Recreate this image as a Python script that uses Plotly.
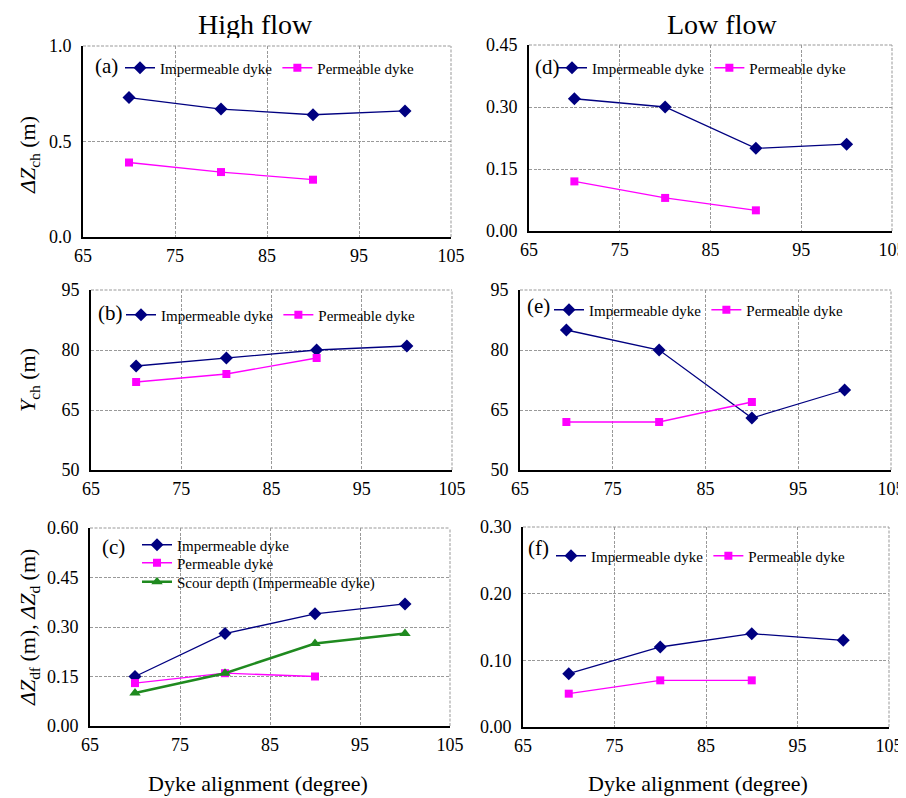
import plotly.graph_objects as go

# ---------------- data ----------------
angles = [70, 80, 90, 100]
angles_perm = [70, 80, 90]

# (a) High flow, Delta Z_ch (m)
a_imperm = [0.73, 0.67, 0.64, 0.66]
a_perm = [0.39, 0.34, 0.30]
# (b) High flow, Y_ch (m)
b_imperm = [76, 78, 80, 81]
b_perm = [72, 74, 78]
# (c) High flow, Delta Z_df, Delta Z_d (m)
c_imperm = [0.15, 0.28, 0.34, 0.37]
c_perm = [0.13, 0.16, 0.15]
c_scour = [0.10, 0.16, 0.25, 0.28]
# (d) Low flow, Delta Z_ch (m)
d_imperm = [0.32, 0.30, 0.20, 0.21]
d_perm = [0.12, 0.08, 0.05]
# (e) Low flow, Y_ch (m)
e_imperm = [85, 80, 63, 70]
e_perm = [62, 62, 67]
# (f) Low flow, Delta Z_df (m)
f_imperm = [0.08, 0.12, 0.14, 0.13]
f_perm = [0.05, 0.07, 0.07]

x_ticks = [65, 75, 85, 95, 105]
y_ticks_a = [0.0, 0.5, 1.0]
y_ticks_b = [50, 65, 80, 95]
y_ticks_c = [0.0, 0.15, 0.30, 0.45, 0.60]
y_ticks_d = [0.0, 0.15, 0.30, 0.45]
y_ticks_e = [50, 65, 80, 95]
y_ticks_f = [0.0, 0.10, 0.20, 0.30]

NAVY = "#000080"
MAGENTA = "#FF00FF"
GREEN = "#1F8A1F"
GRID = "#999999"
GRIDDASH = "3px,1.5px"
FONT = "Liberation Serif, Times New Roman, serif"

# the page body has an 8px margin, so the figure is drawn 8px in from the window edge
OFF = 8
W, H = 906 - OFF, 798 - OFF
def px(x):
    return (x - OFF) / W
def py(y):
    return 1 - (y - OFF) / H

fig = go.Figure()

panels = {
    "a": ("", (83, 451), (46, 237), y_ticks_a, ".1f"),
    "b": ("2", (91, 452), (290, 470), y_ticks_b, "d"),
    "c": ("3", (90, 450), (528, 726), y_ticks_c, ".2f"),
    "d": ("4", (529, 892), (45, 231), y_ticks_d, ".2f"),
    "e": ("5", (520, 891), (290, 470), y_ticks_e, "d"),
    "f": ("6", (523, 889), (527, 727), y_ticks_f, ".2f"),
}

series = {
    "a": [(angles, a_imperm, "imp"), (angles_perm, a_perm, "perm")],
    "b": [(angles, b_imperm, "imp"), (angles_perm, b_perm, "perm")],
    "c": [(angles, c_imperm, "imp"), (angles_perm, c_perm, "perm"), (angles, c_scour, "scour")],
    "d": [(angles, d_imperm, "imp"), (angles_perm, d_perm, "perm")],
    "e": [(angles, e_imperm, "imp"), (angles_perm, e_perm, "perm")],
    "f": [(angles, f_imperm, "imp"), (angles_perm, f_perm, "perm")],
}

styles = {
    "imp": dict(name="Impermeable dyke", line=dict(color=NAVY, width=1.3),
                marker=dict(symbol="diamond", size=10, color=NAVY)),
    "perm": dict(name="Permeable dyke", line=dict(color=MAGENTA, width=1.3),
                 marker=dict(symbol="square", size=8, color=MAGENTA)),
    "scour": dict(name="Scour depth (Impermeable dyke)", line=dict(color=GREEN, width=2.5),
                  marker=dict(symbol="triangle-up", size=10, color=GREEN)),
}

# legend placement (left x of legend box, vertical centre) per panel; panel (c) has one row per legend
legend_pos = {
    "a": [(120, 68)],
    "b": [(121, 315)],
    "c": [(137, 545), (137, 563), (137, 582)],
    "d": [(552, 68)],
    "e": [(549, 310)],
    "f": [(551, 556)],
}

label_pos = {"a": (106, 66), "b": (110, 313), "c": (113, 547),
             "d": (547, 67), "e": (538, 306), "f": (538, 548)}

layout = dict(
    width=W, height=H,
    margin=dict(l=0, r=0, t=0, b=0, autoexpand=False),
    paper_bgcolor="white", plot_bgcolor="white",
    font=dict(family=FONT, size=18, color="black"),
    showlegend=True,
)

annotations = []
shapes = []
leg_count = 0

def new_legend(x, y):
    global leg_count
    leg_count += 1
    name = "legend" if leg_count == 1 else "legend" + str(leg_count)
    layout[name] = dict(
        x=px(x), y=py(y), xanchor="left", yanchor="middle",
        orientation="h", bgcolor="rgba(0,0,0,0)",
        font=dict(family=FONT, size=15, color="black"),
        itemwidth=30, tracegroupgap=0,
    )
    return name

for key, (suf, xd, yd, yt, fmt) in panels.items():
    xa = "x" + suf
    ya = "y" + suf
    lp = legend_pos[key]
    if len(lp) == 1:
        leg_names = [new_legend(*lp[0])] * len(series[key])
    else:
        leg_names = [new_legend(*p) for p in lp]
    for (xs, ys, kind), legname in zip(series[key], leg_names):
        st = styles[kind]
        fig.add_trace(go.Scatter(
            x=xs, y=ys, mode="lines+markers",
            name=st["name"], line=st["line"], marker=st["marker"],
            xaxis=xa, yaxis=ya, legend=legname,
        ))
    layout["xaxis" + suf] = dict(
        domain=[px(xd[0]), px(xd[1])], anchor=ya,
        range=[65, 105], tickvals=x_ticks, automargin=False,
        showline=True, linecolor="black", linewidth=2,
        showgrid=True, gridcolor=GRID, griddash=GRIDDASH, gridwidth=1,
        ticks="", zeroline=False, ticklabelstandoff=1,
        tickfont=dict(family=FONT, size=18),
    )
    layout["yaxis" + suf] = dict(
        domain=[py(yd[1]), py(yd[0])], anchor=xa,
        range=[yt[0], yt[-1]], tickvals=yt, tickformat=fmt, automargin=False,
        showline=True, linecolor="black", linewidth=2,
        showgrid=True, gridcolor=GRID, griddash=GRIDDASH, gridwidth=1,
        ticks="", zeroline=False, ticklabelstandoff=6,
        tickfont=dict(family=FONT, size=18),
    )
    shapes.append(dict(type="line", xref=xa + " domain", yref=ya + " domain",
                       x0=0, x1=1, y0=1, y1=1, layer="below",
                       line=dict(color=GRID, width=1, dash=GRIDDASH)))
    shapes.append(dict(type="line", xref=xa + " domain", yref=ya + " domain",
                       x0=1, x1=1, y0=0, y1=1, layer="below",
                       line=dict(color=GRID, width=1, dash=GRIDDASH)))
    lbx, lby = label_pos[key]
    annotations.append(dict(text="(" + key + ")", x=px(lbx), y=py(lby),
                            xref="paper", yref="paper", showarrow=False,
                            xanchor="center", yanchor="middle",
                            font=dict(family=FONT, size=21)))

for t, cx in (("High flow", 255), ("Low flow", 722)):
    annotations.append(dict(text=t, x=px(cx), y=py(8), xref="paper", yref="paper",
                            xanchor="center", yanchor="top", height=28, valign="middle",
                            showarrow=False, font=dict(family=FONT, size=28)))

ytitles = [
    ("<i>ΔZ</i><sub>ch</sub> (m)", 29, 155),
    ("<i>Y</i><sub>ch</sub> (m)", 29, 380),
    ("<i>ΔZ</i><sub>df</sub> (m), <i>ΔZ</i><sub>d</sub> (m)", 29, 628),
]
for t, x, y in ytitles:
    annotations.append(dict(text=t, x=px(x), y=py(y), xref="paper", yref="paper",
                            xanchor="center", yanchor="middle",
                            showarrow=False, textangle=-90,
                            font=dict(family=FONT, size=22)))

for cx in (258, 698):
    annotations.append(dict(text="Dyke alignment (degree)", x=px(cx), y=py(783),
                            xref="paper", yref="paper", showarrow=False,
                            xanchor="center", yanchor="middle",
                            font=dict(family=FONT, size=22)))

layout["annotations"] = annotations
layout["shapes"] = shapes
fig.update_layout(**layout)

fig.write_html("out.html")
